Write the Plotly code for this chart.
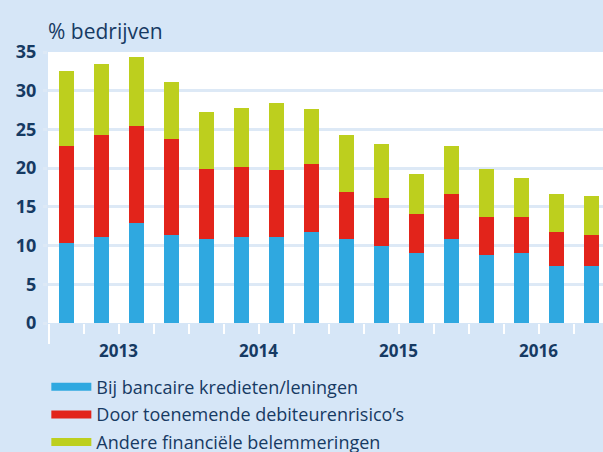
import plotly.graph_objects as go

# Quarterly data 2013 Q1 - 2016 Q4
quarters = list(range(16))
years = ["2013", "2014", "2015", "2016"]

bancair = [10.3, 11.1, 12.9, 11.4, 10.8, 11.1, 11.1, 11.7,
           10.8, 9.9, 9.1, 10.8, 8.8, 9.1, 7.3, 7.3]
debiteur = [12.6, 13.2, 12.6, 12.4, 9.1, 9.1, 8.6, 8.8,
            6.1, 6.2, 5.0, 5.9, 4.9, 4.6, 4.4, 4.1]
anders = [9.6, 9.1, 8.8, 7.3, 7.4, 7.6, 8.7, 7.1,
          7.4, 7.0, 5.2, 6.1, 6.2, 5.0, 5.0, 5.0]

series_names = ["Bij bancaire kredieten/leningen",
                "Door toenemende debiteurenrisico\u2019s",
                "Andere financi\u00eble belemmeringen"]
series_values = [bancair, debiteur, anders]
colors = ["#2fa8e0", "#e2241b", "#bdcf1e"]

NAVY = "#163a63"
BG = "#d6e6f7"
GRID = "#dde9f6"

fig = go.Figure()
for name, vals, col in zip(series_names, series_values, colors):
    fig.add_bar(
        x=quarters, y=vals, width=0.43,
        marker=dict(color=col, line=dict(width=0)),
        legendgroup=name, showlegend=False,
    )
    # legend entry drawn as a thick line
    fig.add_scatter(
        x=[None], y=[None], mode="lines", name=name, legendgroup=name,
        line=dict(color=col, width=8),
    )

for i, yr in enumerate(years):
    fig.add_annotation(
        x=1.5 + 4 * i, y=0, xref="x", yref="paper", text="<b>%s</b>" % yr,
        showarrow=False, yanchor="middle", yshift=-27,
        font=dict(size=17, color=NAVY),
    )

fig.update_layout(
    width=603, height=452,
    barmode="stack",
    paper_bgcolor=BG, plot_bgcolor="white",
    margin=dict(l=48, r=0, t=52, b=129, autoexpand=False),
    font=dict(family="Open Sans", color=NAVY),
    title=dict(text="% bedrijven", x=0, xref="paper", xanchor="left",
               y=1, yref="paper", yanchor="bottom", pad=dict(b=13, l=0),
               font=dict(size=21, color=NAVY)),
    legend=dict(x=-0.003, y=-0.168, xanchor="left", yanchor="top",
                orientation="v", bgcolor="rgba(0,0,0,0)", itemwidth=40,
                tracegroupgap=1.25, font=dict(size=18, color=NAVY)),
    showlegend=True,
)
fig.update_yaxes(
    range=[0, 35], tickvals=[0, 5, 10, 15, 20, 25, 30, 35],
    showgrid=True, gridcolor=GRID, gridwidth=3, zeroline=False,
    ticks="outside", ticklen=4, tickwidth=3, tickcolor=GRID,
    ticklabelstandoff=3,
    tickfont=dict(size=18, color=NAVY, family="Open Sans", weight="bold"),
    showline=False,
)
fig.update_xaxes(
    range=[-0.52, 15.33], showgrid=False, zeroline=False, showline=False,
    tickmode="array", tickvals=[-0.5, 3.5, 7.5, 11.5, 15.5],
    ticktext=["", "", "", "", ""],
    ticks="outside", ticklen=20, tickwidth=2, tickcolor="white",
    minor=dict(tickmode="array",
               tickvals=[q + 0.5 for q in quarters[:-1]],
               ticks="outside", ticklen=10, tickwidth=2, tickcolor="white"),
)

# page has a default body margin; remove it so the figure fills the window
fig.write_html(
    "out.html",
    config={"displayModeBar": False},
    post_script="document.body.style.margin='0';"
                "document.body.style.background='%s';" % BG,
)
